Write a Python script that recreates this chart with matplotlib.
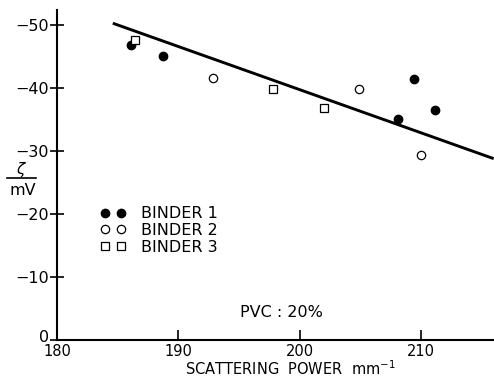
import matplotlib
matplotlib.use("Agg")
import matplotlib.pyplot as plt
import matplotlib.transforms as mtransforms

# readings (zeta potential in mV)
b1_x = [186.1, 188.7, 208.1, 209.4, 211.2]
b1_y = [-46.8, -45.1, -35.1, -41.4, -36.6]
b2_x = [192.9, 204.9, 210.0]
b2_y = [-41.6, -39.9, -29.3]
b3_x = [186.4, 197.8, 202.0]
b3_y = [-47.6, -39.9, -36.8]
fit_x = [184.6, 216.0]
fit_y = [-50.3, -28.8]

xticks = [180, 190, 200, 210]
yticks = [0, -10, -20, -30, -40, -50]

plt.rcParams['font.family'] = 'DejaVu Sans'

fig = plt.figure(figsize=(4.94, 3.77), dpi=100)
ax = fig.add_axes([0.1154, 0.098, 0.884, 0.8755])

ax.plot(fit_x, fit_y, color='black', lw=2.1, solid_capstyle='butt')
ax.plot(b1_x, b1_y, 'o', ms=6, mfc='black', mec='black', ls='none', label='BINDER 1')
ax.plot(b2_x, b2_y, 'o', ms=6, mfc='white', mec='black', mew=0.9, ls='none', label='BINDER 2')
ax.plot(b3_x, b3_y, 's', ms=5.5, mfc='white', mec='black', mew=0.9, ls='none', label='BINDER 3')

ax.set_xlim(180, 216)
ax.set_ylim(0, -52.4)
ax.set_xticks(xticks)
ax.set_yticks(yticks)
ax.spines['top'].set_visible(False)
ax.spines['right'].set_visible(False)
ax.spines['left'].set_linewidth(1.5)
ax.spines['bottom'].set_linewidth(1.5)
ax.tick_params(axis='x', direction='in', length=7.5, width=1.2, labelsize=10.5, pad=3)
ax.tick_params(axis='y', direction='inout', length=10, width=1.2, labelsize=11.5, pad=1)

# the "0" sits a bit above the corner in the original
zero_lbl = ax.get_yticklabels()[0]
zero_lbl.set_transform(zero_lbl.get_transform() +
                       mtransforms.ScaledTranslation(0, 3 / 72, fig.dpi_scale_trans))

ax.set_xlabel('SCATTERING  POWER  mm$^{-1}$', fontsize=10.5, va='center')
ax.xaxis.set_label_coords(0.534, -0.087)

# zeta / mV written as a fraction left of the axis
fig.text(0.043, 0.551, r'$\zeta$', fontsize=11, ha='center', va='center')
fig.add_artist(plt.Line2D([0.015, 0.073], [0.528, 0.528], color='black', lw=1.2))
fig.text(0.046, 0.494, 'mV', fontsize=11.5, ha='center', va='center')

ax.text(198.5, -4.4, 'PVC : 20%', fontsize=11.5, ha='center', va='center')

ax.legend(loc='upper left', bbox_to_anchor=(0.1, 0.405), numpoints=2, frameon=False,
          fontsize=11.5, handlelength=1.6, handletextpad=0.9, labelspacing=0.1,
          borderpad=0, borderaxespad=0)

fig.savefig('out.png', dpi=100)
